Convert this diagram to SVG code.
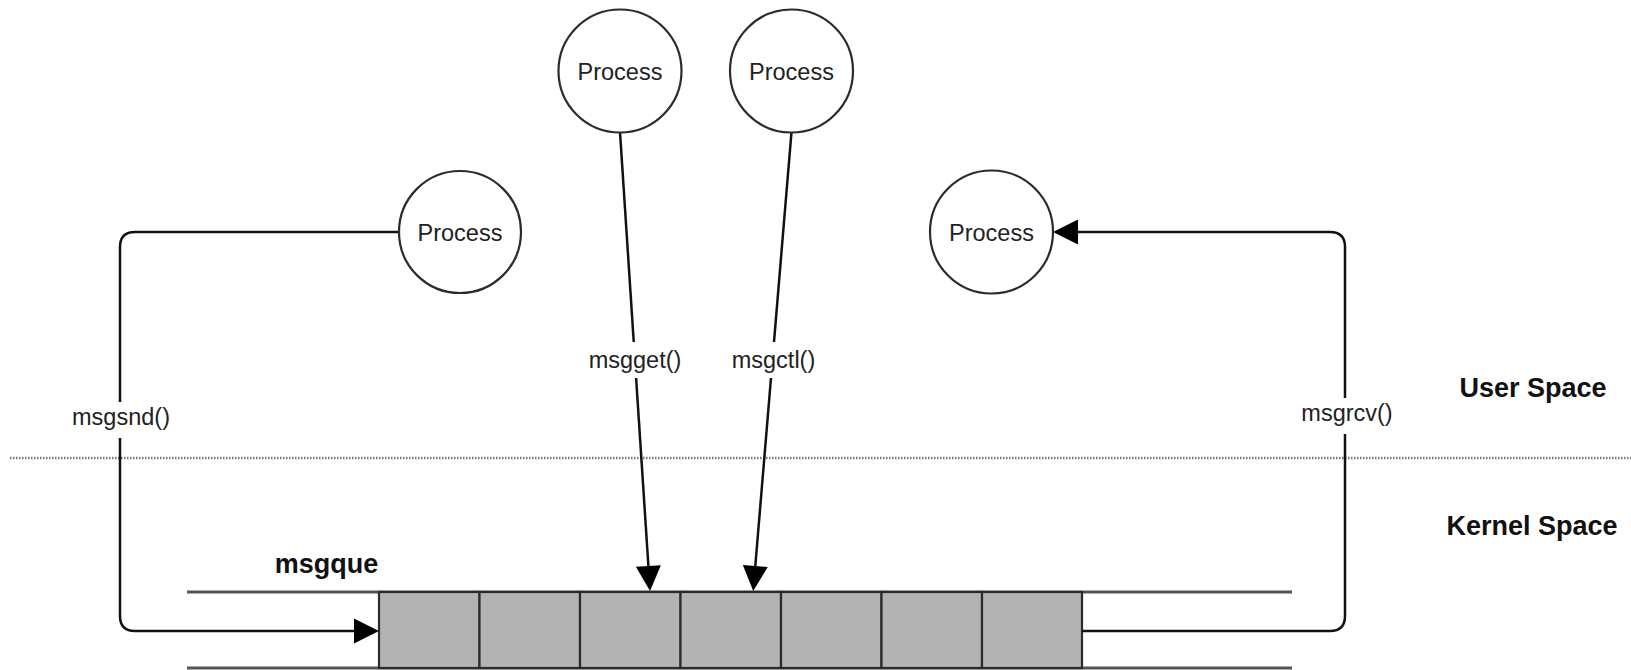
<svg xmlns="http://www.w3.org/2000/svg" width="1631" height="670" viewBox="0 0 1631 670">
<style>
.node{fill:#fff;stroke:#2b2b2b;stroke-width:2.2}
.lbl{font-family:"Liberation Sans",Arial,sans-serif;font-size:23.5px;fill:#222;text-anchor:middle}
.bold{font-family:"Liberation Sans",Arial,sans-serif;font-size:27px;font-weight:bold;fill:#111;text-anchor:middle}
.conn{fill:none;stroke:#111;stroke-width:2.5}
.rail{stroke:#555;stroke-width:3}
.cell{fill:#b3b3b3;stroke:#2b2b2b;stroke-width:2.2}
.bg{fill:#fff}
</style>
<defs>
<marker id="arr" markerUnits="userSpaceOnUse" markerWidth="26" markerHeight="26" refX="0" refY="12.5" orient="auto" overflow="visible">
<path d="M0,0 L25,12.5 L0,25 Z" fill="#000"/>
</marker>
</defs>
<rect width="1631" height="670" fill="#fff"/>
<line x1="10" y1="458" x2="1631" y2="458" stroke="#777" stroke-width="2.5" stroke-dasharray="1.5 1.5"/>
<g id="space-labels">
<text class="bold" x="1533" y="397">User Space</text>
<text class="bold" x="1532" y="535">Kernel Space</text>
</g>
<g id="msgque">
<line class="rail" x1="187" y1="592" x2="1292" y2="592"/>
<line class="rail" x1="187" y1="668" x2="1292" y2="668"/>
<rect class="cell" x="379" y="592" width="100.5" height="76"/>
<rect class="cell" x="479.5" y="592" width="100.5" height="76"/>
<rect class="cell" x="580" y="592" width="100.5" height="76"/>
<rect class="cell" x="680.5" y="592" width="100.5" height="76"/>
<rect class="cell" x="781" y="592" width="100.5" height="76"/>
<rect class="cell" x="881.5" y="592" width="100.5" height="76"/>
<rect class="cell" x="982" y="592" width="100" height="76"/>
<text class="bold" x="326.5" y="573">msgque</text>
</g>
<g id="connectors">
<path class="conn" d="M399,232 L135,232 Q120,232 120,247 L120,616 Q120,631 135,631 L354,631" marker-end="url(#arr)"/>
<path class="conn" d="M1082,631 L1330,631 Q1345,631 1345,616 L1345,247 Q1345,232 1330,232 L1078,232" marker-end="url(#arr)"/>
<path class="conn" d="M620,132 L648.4,566" marker-end="url(#arr)"/>
<path class="conn" d="M791.5,132 L755.3,566" marker-end="url(#arr)"/>
<rect class="bg" x="70" y="402" width="102" height="36"/>
<text class="lbl" x="121" y="425">msgsnd()</text>
<rect class="bg" x="587" y="342" width="97" height="36"/>
<text class="lbl" x="635" y="368">msgget()</text>
<rect class="bg" x="730" y="342" width="87" height="36"/>
<text class="lbl" x="773.5" y="368">msgctl()</text>
<rect class="bg" x="1297" y="398" width="100" height="36"/>
<text class="lbl" x="1347" y="421">msgrcv()</text>
</g>
<g id="p-get">
<circle class="node" cx="620" cy="71" r="61.5"/>
<text class="lbl" x="620" y="79.5">Process</text>
</g>
<g id="p-ctl">
<circle class="node" cx="791.5" cy="71" r="61.5"/>
<text class="lbl" x="791.5" y="79.5">Process</text>
</g>
<g id="p-snd">
<circle class="node" cx="460" cy="232" r="61"/>
<text class="lbl" x="460" y="240.5">Process</text>
</g>
<g id="p-rcv">
<circle class="node" cx="991.5" cy="232" r="61.5"/>
<text class="lbl" x="991.5" y="240.5">Process</text>
</g>
</svg>
